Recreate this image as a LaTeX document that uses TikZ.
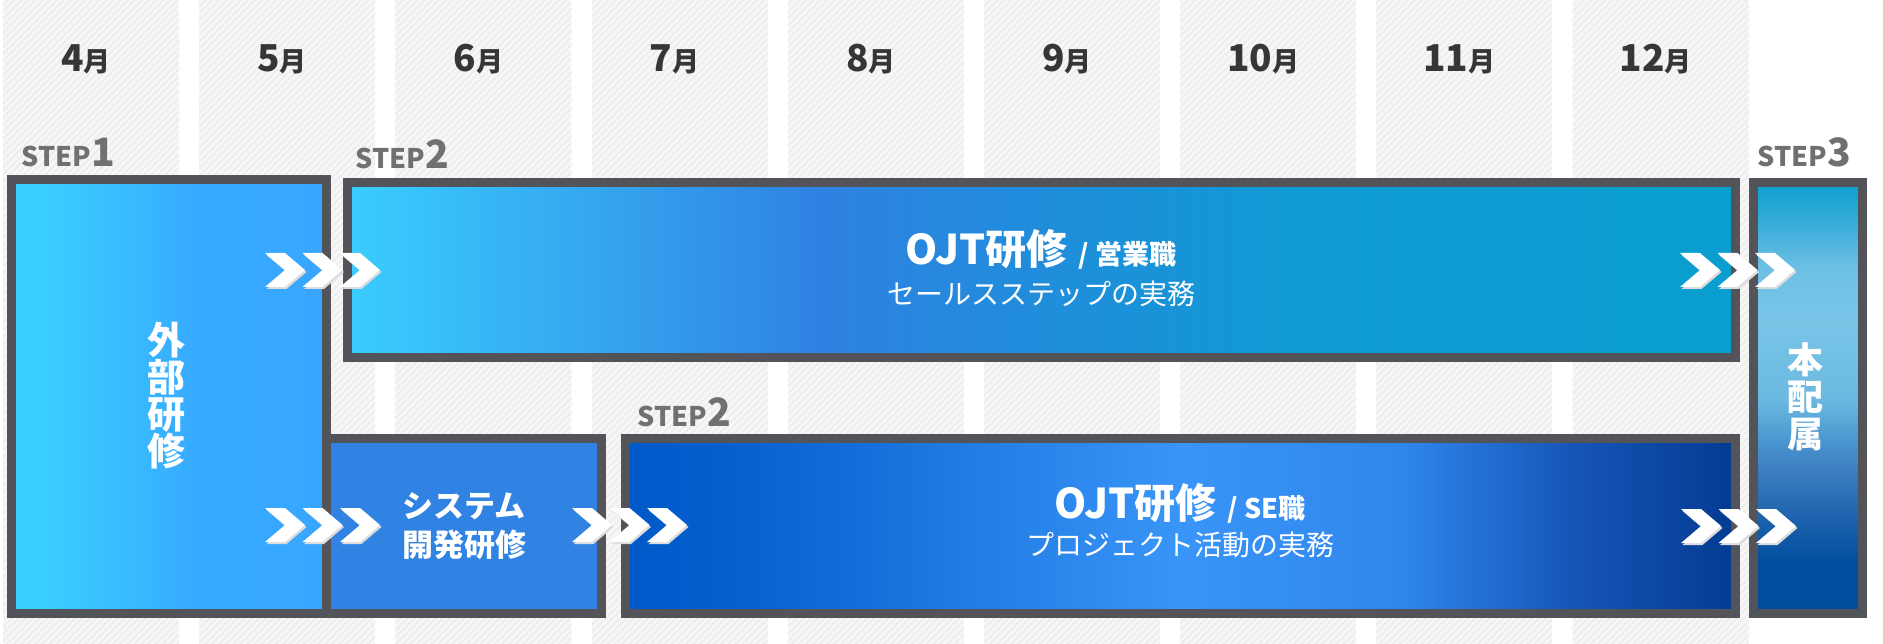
\documentclass[tikz,border=0pt]{standalone}
\usepackage{fontspec}
\setmainfont{Noto Sans CJK JP}
\usetikzlibrary{patterns.meta}
\definecolor{bord}{HTML}{535459}
\definecolor{colbg}{HTML}{F7F7F7}
\definecolor{colstripe}{HTML}{EDEDED}
\definecolor{monthc}{HTML}{363636}
\definecolor{stepc}{HTML}{707070}
\definecolor{chevgray}{HTML}{DCDCDC}
\definecolor{b3fill}{HTML}{3183E3}
% box 1
\definecolor{aA}{HTML}{3BCFFF}\definecolor{aB}{HTML}{37A9FF}\definecolor{aC}{HTML}{38A6FF}
\pgfdeclarehorizontalshading{shBone}{100bp}{color(0bp)=(aA); color(30bp)=(aA); color(55bp)=(aB); color(75bp)=(aC); color(100bp)=(aC)}
% box 2
\definecolor{bA}{HTML}{3ACDFE}\definecolor{bB}{HTML}{2F82E2}\definecolor{bC}{HTML}{0E9BD3}\definecolor{bD}{HTML}{099ECF}
\pgfdeclarehorizontalshading{shBtwo}{100bp}{color(0bp)=(bA); color(25bp)=(bA); color(42bp)=(bB); color(60bp)=(bC); color(75bp)=(bD); color(100bp)=(bD)}
% box 4
\definecolor{cA}{HTML}{0059C9}\definecolor{cB}{HTML}{0660CE}\definecolor{cC}{HTML}{3A95F8}\definecolor{cD}{HTML}{2F86EC}\definecolor{cE}{HTML}{1656B8}\definecolor{cF}{HTML}{033B91}
\pgfdeclarehorizontalshading{shBfour}{100bp}{color(0bp)=(cA); color(25bp)=(cA); color(30bp)=(cB); color(50bp)=(cC); color(60bp)=(cD); color(67.5bp)=(cE); color(75bp)=(cF); color(100bp)=(cF)}
% box 5
\definecolor{dA}{HTML}{004E9C}\definecolor{dB}{HTML}{004F9F}\definecolor{dC}{HTML}{1A5FAA}\definecolor{dD}{HTML}{3D80C2}\definecolor{dE}{HTML}{4A95CF}\definecolor{dF}{HTML}{6BB9E0}\definecolor{dG}{HTML}{78C5E8}\definecolor{dH}{HTML}{6DBFE4}\definecolor{dI}{HTML}{3BAEDA}\definecolor{dJ}{HTML}{0DA0CF}
\pgfdeclareverticalshading{shBfive}{100bp}{color(0bp)=(dA); color(25bp)=(dA); color(30.8bp)=(dB); color(35.5bp)=(dC); color(42bp)=(dD); color(45bp)=(dE); color(49.8bp)=(dF); color(59.2bp)=(dG); color(65.2bp)=(dH); color(69.9bp)=(dI); color(75bp)=(dJ); color(100bp)=(dJ)}

\newcommand\onechev[2]{%
  \fill[chevgray, shift={({#1+1.5},{#2+2})}] (0,-17) -- (20,-17) -- (40,0) -- (20,17) -- (0,17) -- (20,0) -- cycle;
  \fill[white, shift={({#1},{#2})}] (0,-17) -- (20,-17) -- (40,0) -- (20,17) -- (0,17) -- (20,0) -- cycle;}
\newcommand\chevgroup[2]{\onechev{#1}{#2}\onechev{#1+37.5}{#2}\onechev{#1+75}{#2}}

\begin{document}
\begin{tikzpicture}[x=1pt,y=-1pt,
  box/.style={draw=bord, line width=9pt, inner sep=0pt, outer sep=0pt, anchor=north west},
  month/.style={anchor=base, text=monthc, font=\bfseries},
  steplab/.style={anchor=base west, text=stepc, font=\bfseries},
  boxtext/.style={text=white, inner sep=0pt},
]
\useasboundingbox (0,0) rectangle (1883,644);
\fill[white] (0,0) rectangle (1883,644);
% month columns
\foreach \i in {0,...,8}{
  \fill[colbg] ({3+196.2*\i},0) rectangle ++(176,644);
  \fill[pattern={Lines[angle=45,distance=5pt,line width=1.8pt]}, pattern color=colstripe] ({3+196.2*\i},0) rectangle ++(176,644);
}
\foreach \i/\m in {0/4,1/5,2/6,3/7,4/8,5/9,6/10,7/11,8/12}{
  \node[month] (m\i) at ({86+196.2*\i},72) {{\fontsize{37}{37}\selectfont\m}{\fontsize{27}{27}\selectfont 月}};
}
% step labels
\node[steplab] (s1) at (18,167) {{\fontsize{27}{27}\selectfont STEP}{\fontsize{39}{39}\selectfont 1}};
\node[steplab] (s2a) at (352,169) {{\fontsize{27}{27}\selectfont STEP}{\fontsize{39}{39}\selectfont 2}};
\node[steplab] (s2b) at (634,426) {{\fontsize{27}{27}\selectfont STEP}{\fontsize{39}{39}\selectfont 2}};
\node[steplab] (s3) at (1754,167) {{\fontsize{27}{27}\selectfont STEP}{\fontsize{39}{39}\selectfont 3}};
% boxes
\node[box, shading=shBone, minimum width=315pt, minimum height=434pt] (B1) at (11.5,179.5) {};
\node[box, shading=shBtwo, minimum width=1388pt, minimum height=175pt] (B2) at (347.5,182.5) {};
\node[box, fill=b3fill, minimum width=275pt, minimum height=175pt] (B3) at (326.5,438.5) {};
\node[box, shading=shBfour, minimum width=1110pt, minimum height=175pt] (B4) at (625.5,438.5) {};
\node[box, shading=shBfive, minimum width=109pt, minimum height=431pt] (B5) at (1753.5,182.5) {};
% box texts
\node[boxtext, align=center, font=\fontsize{38}{37}\selectfont\bfseries] (t1) at (166,396) {外\\部\\研\\修};
\node[boxtext, align=center, font=\fontsize{36}{37}\selectfont\bfseries] (t5) at (1805,397) {本\\配\\属};
\node[boxtext, align=center, font=\fontsize{31}{39}\selectfont\bfseries] (t3) at (464,526) {システム\\開発研修};
\node[boxtext, anchor=base] (t2a) at (1041,265) {{\fontsize{41}{41}\selectfont\bfseries OJT研修}\hspace{11pt}{\fontsize{27}{27}\selectfont\bfseries / 営業職}};
\node[boxtext, anchor=base] (t2b) at (1041,305) {\fontsize{28}{28}\selectfont セールスステップの実務};
\node[boxtext, anchor=base] (t4a) at (1180,518) {{\fontsize{41}{41}\selectfont\bfseries OJT研修}\hspace{11pt}{\fontsize{27}{27}\selectfont\bfseries / SE職}};
\node[boxtext, anchor=base] (t4b) at (1180,555) {\fontsize{28}{28}\selectfont プロジェクト活動の実務};
% chevrons
\chevgroup{265}{270}
\chevgroup{265}{525}
\chevgroup{572}{525}
\chevgroup{1680}{270}
\chevgroup{1681}{526}
\end{tikzpicture}
\end{document}
